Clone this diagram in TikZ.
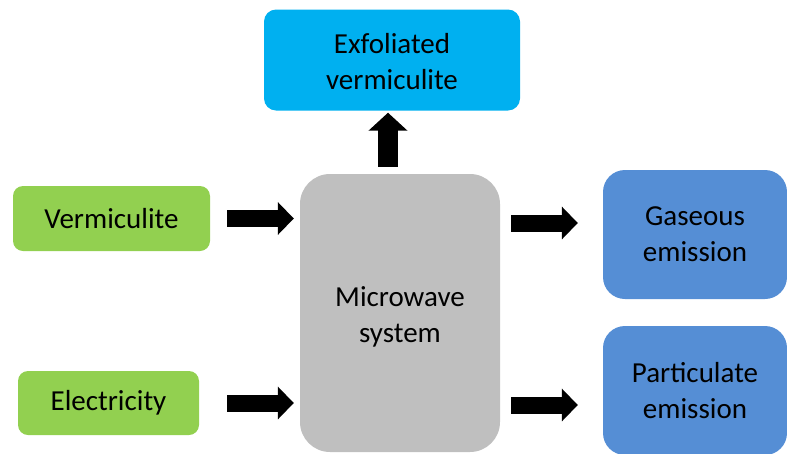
\documentclass[tikz,border=0pt]{standalone}
\usepackage{fontspec}
\setmainfont{Carlito}
\usetikzlibrary{arrows.meta,positioning,calc}
\definecolor{InputGreen}{RGB}{146,208,80}
\definecolor{ProductCyan}{RGB}{0,176,240}
\definecolor{SystemGray}{RGB}{191,191,191}
\definecolor{EmissionBlue}{RGB}{85,142,213}
\tikzset{
  box base/.style={
    rounded corners=10pt,
    inner sep=0pt,
    align=center,
    font=\fontsize{29}{36}\selectfont,
  },
  input box/.style={
    box base,
    fill=InputGreen,
  },
  product box/.style={
    box base,
    fill=ProductCyan,
    rounded corners=12pt,
  },
  system box/.style={
    box base,
    fill=SystemGray,
    rounded corners=30pt,
  },
  emission box/.style={
    box base,
    fill=EmissionBlue,
    rounded corners=22pt,
  },
  block arrow/.style={line width=17pt,-{Triangle[length=16pt,width=32pt]}},
  up arrow/.style={line width=20pt,-{Triangle[length=18pt,width=38pt]}},
}

\begin{document}
\begin{tikzpicture}[x=1pt,y=-1pt]

\useasboundingbox (0,0) rectangle (787,453);

% Boxes.
\node[product box,minimum width=256pt,minimum height=101pt] (exf) at (392,60) {};
\node[font=\fontsize{29}{36}\selectfont,align=center] (exftext) at (392,62) {Exfoliated\\vermiculite};
\node[input box,minimum width=197pt,minimum height=65pt] (verm) at (111.5,218.5) {Vermiculite};
\node[input box,minimum width=181pt,minimum height=64pt] (elec) at (108.5,403) {Electricity};
\node[system box,minimum width=200pt,minimum height=278pt] (micro) at (400,313) {};
\node[font=\fontsize{29}{36}\selectfont,align=center] (microtext) at (400,317) {Microwave\\system};
\node[emission box,minimum width=184pt,minimum height=129pt] (gas) at (695,234.5) {Gaseous\\emission};
\node[emission box,minimum width=184pt,minimum height=129pt] (part) at (695,390.5) {Particulate\\emission};

% Inputs.
\draw[block arrow,shorten <=17pt,shorten >=6pt] (verm.east) -- (verm.east -| micro.west);
\draw[block arrow,shorten <=28pt,shorten >=6pt] (elec.east) -- (elec.east -| micro.west);

% Outputs.
\draw[block arrow,shorten <=11pt,shorten >=25pt] ([yshift=11.5pt]gas.west -| micro.east) -- ([yshift=11.5pt]gas.west);
\draw[block arrow,shorten <=11pt,shorten >=25pt] ([yshift=-14.5pt]part.west -| micro.east) -- ([yshift=-14.5pt]part.west);
\draw[up arrow,shorten <=7pt,shorten >=2pt] ([xshift=-12pt]micro.north) -- ([xshift=-12pt]micro.north |- exf.south);

\end{tikzpicture}
\end{document}
